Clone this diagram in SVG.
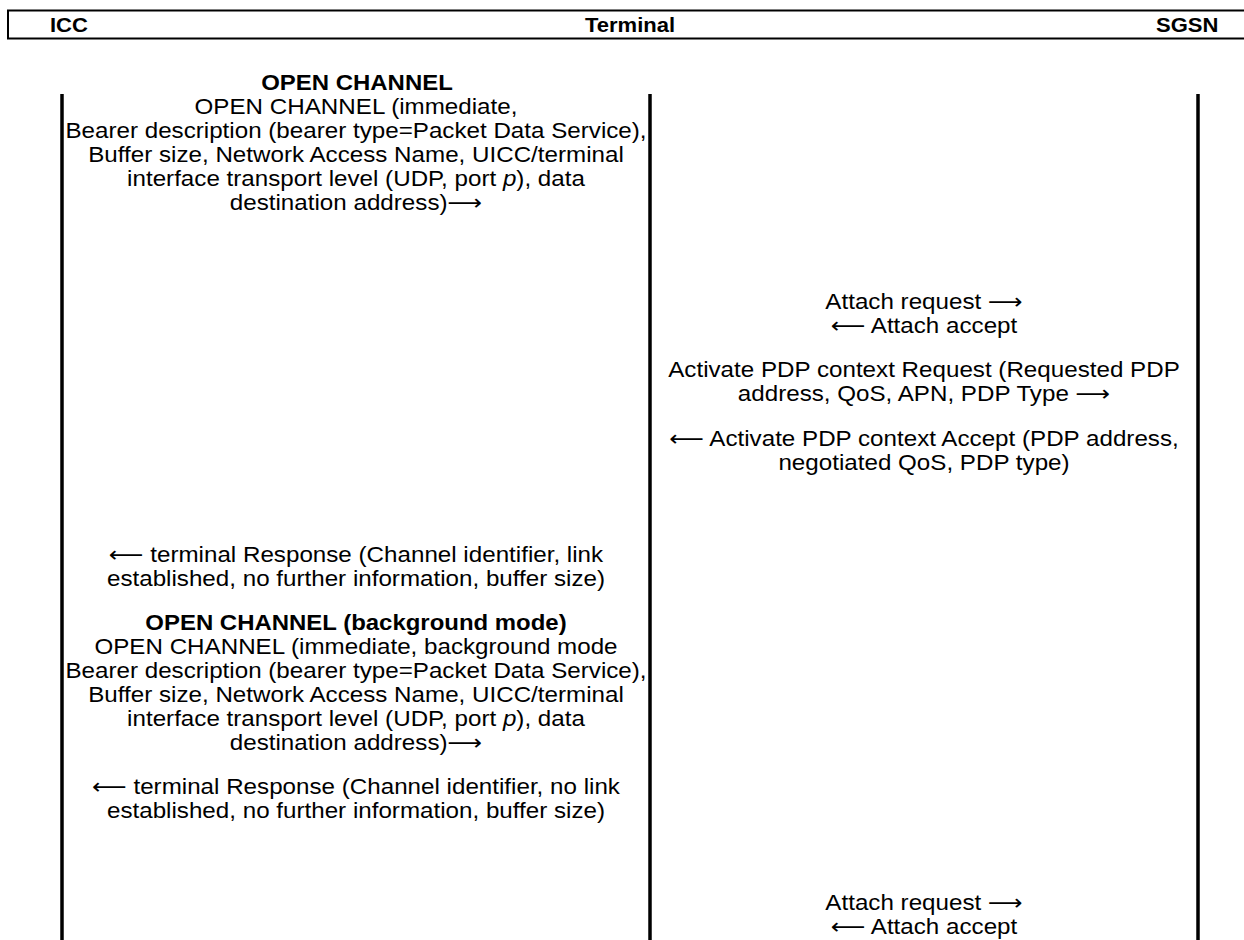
<svg xmlns="http://www.w3.org/2000/svg" width="1244" height="940" viewBox="0 0 1244 940">
<style>
text{font-family:"Liberation Sans","DejaVu Sans",Arial,sans-serif;fill:#000}
.h{font-size:19.5px;font-weight:bold}
.b{font-size:21.2px;font-weight:bold}
.t{font-size:21.4px}
.l{text-anchor:middle}
.bar{stroke:#000;stroke-width:3.5;fill:none}
.hl{stroke:#000;stroke-width:2;fill:none}
</style>
<rect width="1244" height="940" fill="#fff"/>
<g id="header">
<path class="hl" d="M1244 10.5H8V38.5H1244"/>
<text class="h" transform="translate(50 32) scale(1.13 1)">ICC</text>
<text class="h l" transform="translate(630 32) scale(1.13 1)">Terminal</text>
<text class="h" transform="translate(1156 32) scale(1.13 1)">SGSN</text>
</g>
<g id="lifelines">
<line id="icc" class="bar" x1="62" y1="94" x2="62" y2="940"/>
<line id="terminal" class="bar" x1="650" y1="94" x2="650" y2="940"/>
<line id="sgsn" class="bar" x1="1198" y1="94" x2="1198" y2="940"/>
</g>
<g id="connectors">
<g id="left" transform="translate(356 0) scale(1.13 1)">
<g id="m1">
<text class="b l" x="0.9" y="90">OPEN CHANNEL</text>
<text class="t l" x="0" y="114">OPEN CHANNEL (immediate,</text>
<text class="t l" x="0" y="138">Bearer description (bearer type=Packet Data Service),</text>
<text class="t l" x="0" y="162">Buffer size, Network Access Name, UICC/terminal</text>
<text class="t l" x="0" y="186">interface transport level (UDP, port <tspan font-style="italic">p</tspan>), data</text>
<text class="t l" x="0" y="210">destination address)⟶</text>
</g>
<g id="m5">
<text class="t l" x="0" y="562">⟵ terminal Response (Channel identifier, link</text>
<text class="t l" x="0" y="586">established, no further information, buffer size)</text>
</g>
<g id="m6">
<text class="b l" x="0" y="630">OPEN CHANNEL (background mode)</text>
<text class="t l" x="0" y="654">OPEN CHANNEL (immediate, background mode</text>
<text class="t l" x="0" y="678">Bearer description (bearer type=Packet Data Service),</text>
<text class="t l" x="0" y="702">Buffer size, Network Access Name, UICC/terminal</text>
<text class="t l" x="0" y="726">interface transport level (UDP, port <tspan font-style="italic">p</tspan>), data</text>
<text class="t l" x="0" y="750">destination address)⟶</text>
</g>
<g id="m7">
<text class="t l" x="0" y="794">⟵ terminal Response (Channel identifier, no link</text>
<text class="t l" x="0" y="818">established, no further information, buffer size)</text>
</g>
</g>
<g id="right" transform="translate(924 0) scale(1.13 1)">
<g id="m2">
<text class="t l" x="0" y="309">Attach request ⟶</text>
<text class="t l" x="0" y="333">⟵ Attach accept</text>
</g>
<g id="m3">
<text class="t l" x="0" y="377">Activate PDP context Request (Requested PDP</text>
<text class="t l" x="0" y="401">address, QoS, APN, PDP Type ⟶</text>
</g>
<g id="m4">
<text class="t l" x="0" y="446">⟵ Activate PDP context Accept (PDP address,</text>
<text class="t l" x="0" y="470">negotiated QoS, PDP type)</text>
</g>
<g id="m8">
<text class="t l" x="0" y="910">Attach request ⟶</text>
<text class="t l" x="0" y="934">⟵ Attach accept</text>
</g>
</g>
</g>
</svg>
